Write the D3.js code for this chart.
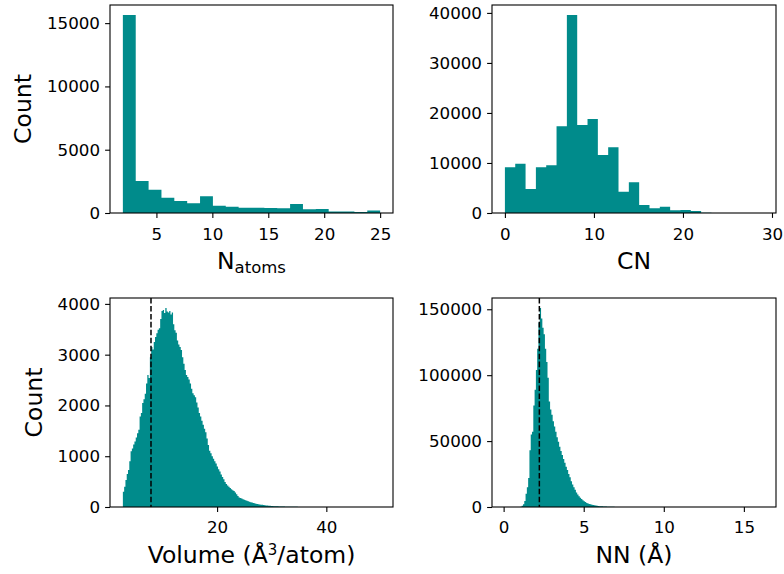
<!DOCTYPE html>
<html>
<head>
<meta charset="utf-8">
<script src="https://cdn.jsdelivr.net/npm/d3@7"></script>
<style>
body { margin: 0; background: #fff; }
svg { display: block; }
text { font-family: "DejaVu Sans", sans-serif; }
</style>
</head>
<body>
<svg width="784" height="574"></svg>
<script>
var svg = d3.select('svg');

// histogram counts, one value per bin
var natomsRange = [2, 25];
var natomsCounts = [15650, 2530, 1830, 1200, 950, 780, 1330, 570, 495, 420,
    415, 400, 370, 720, 300, 320, 110, 110, 80, 190];
var natomsXTicks = [5, 10, 15, 20, 25];
var natomsYTicks = [0, 5000, 10000, 15000];

var cnRange = [0, 29];
var cnCounts = [9130, 9870, 4800, 9130, 9530, 17330, 39600, 17600, 18800, 11600,
    13130, 4270, 6130, 1600, 930, 1270, 530, 600, 400, 60,
    20, 8, 4, 2, 1];
var cnXTicks = [0, 10, 20, 30];
var cnYTicks = [0, 10000, 20000, 30000, 40000];

var volumeRange = [2.75, 49.85];
var volumeCounts = [
    300, 400, 530, 650, 730, 900, 1100, 1150, 1230, 1290,
    1370, 1450, 1520, 1780, 1850, 2050, 2120, 2230, 2430, 2600,
    2540, 2950, 3150, 3100, 3250, 3350, 3420, 3490, 3520, 3700,
    3860, 3880, 3820, 3920, 3850, 3830, 3860, 3790, 3830, 3600,
    3480, 3430, 3280, 3200, 3150, 3090, 2950, 2820, 2700, 2600,
    2560, 2510, 2430, 2330, 2240, 2200, 2160, 2060, 1960, 1850,
    1780, 1700, 1620, 1540, 1470, 1350, 1220, 1110, 1060, 1000,
    950, 900, 855, 800, 745, 700, 640, 590, 545, 490,
    455, 425, 400, 375, 350, 330, 315, 285, 250, 215,
    185, 175, 165, 155, 143, 133, 125, 115, 105, 95,
    88, 80, 73, 66, 60, 55, 50, 46, 42, 38,
    34, 31, 28, 25, 23, 21, 19, 17, 15, 14,
    13, 12, 11, 10, 9, 8, 7, 6, 6, 5,
    5, 4, 4, 3, 3, 3, 2, 2, 2, 2,
    2, 1, 1, 1, 1, 1, 1, 1, 0, 1,
    0, 1, 0, 0, 1, 0, 0, 0, 1, 0,
    0, 0, 0, 1, 0, 0, 0, 0, 0, 0,
    0, 0, 1, 0, 0, 0, 0, 0, 0, 0,
    0, 0, 0, 0, 0, 0, 0, 0, 0, 0,
    0, 0, 0, 0, 0, 0, 0, 0, 0, 1];
var volumeXTicks = [20, 40];
var volumeYTicks = [0, 1000, 2000, 3000, 4000];
var volumeMarker = 7.9;

var nnRange = [0.08, 16.2];
var nnCounts = [
    1, 0, 0, 0, 1, 0, 1, 1, 2, 3,
    20, 60, 250, 900, 2000, 4500, 10000, 15000, 22000, 43000,
    55000, 57000, 77000, 89000, 104000, 120000, 140000, 151000, 143000, 136000,
    131000, 120000, 110000, 98000, 80000, 74000, 70000, 65000, 61000, 57000,
    53000, 49500, 45700, 42500, 39500, 36500, 33500, 30500, 28000, 25000,
    22500, 19500, 17000, 15000, 13000, 11000, 9500, 8200, 7100, 6100,
    5200, 4400, 3700, 3100, 2700, 2300, 2000, 1700, 1450, 1250,
    1050, 900, 770, 660, 560, 480, 410, 350, 300, 255,
    215, 185, 155, 130, 110, 95, 80, 68, 58, 50,
    42, 36, 30, 26, 22, 19, 16, 14, 12, 10,
    9, 8, 7, 6, 5, 5, 4, 4, 3, 3,
    3, 2, 2, 2, 2, 1, 1, 1, 1, 1,
    1, 1, 1, 0, 1, 1, 0, 1, 0, 1,
    0, 0, 1, 0, 0, 0, 1, 0, 0, 0,
    0, 0, 0, 1, 0, 0, 0, 0, 0, 0,
    0, 0, 0, 0, 0, 0, 1, 0, 0, 0,
    0, 0, 0, 0, 0, 0, 0, 0, 0, 0,
    0, 0, 0, 0, 0, 0, 0, 0, 0, 0,
    0, 0, 0, 0, 0, 0, 0, 0, 0, 0,
    0, 0, 0, 0, 0, 0, 0, 0, 0, 1];
var nnXTicks = [0, 5, 10, 15];
var nnYTicks = [0, 50000, 100000, 150000];
var nnMarker = 2.23;

var fill = '#008b8b';
var tickFont = 16.7;
var labelFont = 23.5;

function drawPanel(p) {
    var g = svg.append('g').attr('transform', 'translate(' + p.left + ',' + p.top + ')');
    var lo = p.range[0], hi = p.range[1], n = p.counts.length;
    var step = (hi - lo) / n, margin = (hi - lo) * 0.05;

    var x = d3.scaleLinear().domain([lo - margin, hi + margin]).range([0, p.width]);
    var y = d3.scaleLinear().domain([0, d3.max(p.counts) * 1.05]).range([p.height, 0]);

    // bins as one stepped area so thin bars don't leave seams
    var pts = p.counts.map(function(c, i) { return [lo + i * step, c]; });
    pts.push([hi, p.counts[n - 1]]);
    var area = d3.area()
        .x(function(d) { return x(d[0]); })
        .y0(y(0))
        .y1(function(d) { return y(d[1]); })
        .curve(d3.curveStepAfter);
    g.append('path').datum(pts).attr('d', area).attr('fill', fill);

    if (p.marker != null) {
        g.append('line')
            .attr('x1', x(p.marker)).attr('x2', x(p.marker))
            .attr('y1', 0).attr('y2', p.height)
            .attr('stroke', '#000').attr('stroke-width', 1.5)
            .attr('stroke-dasharray', '5.55,2.4');
    }

    var gx = g.append('g')
        .attr('transform', 'translate(0,' + p.height + ')')
        .call(d3.axisBottom(x).tickValues(p.xTicks).tickSize(4.9).tickPadding(p.xPad));
    var gy = g.append('g')
        .call(d3.axisLeft(y).tickValues(p.yTicks).tickSize(4.9).tickPadding(5.1).tickFormat(d3.format('d')));

    [gx, gy].forEach(function(ax) {
        ax.attr('font-family', null).attr('font-size', null);
        ax.select('.domain').remove();
        ax.selectAll('line').attr('stroke', '#000').attr('stroke-width', 1.1);
        ax.selectAll('text').attr('fill', '#000').style('font-size', tickFont + 'px');
    });

    g.append('rect')
        .attr('width', p.width).attr('height', p.height)
        .attr('fill', 'none').attr('stroke', '#000').attr('stroke-width', 1.1);

    var xl = g.append('text')
        .attr('x', p.width / 2).attr('y', p.height + 56)
        .attr('text-anchor', 'middle')
        .style('font-size', labelFont + 'px');
    p.xlabel(xl);

    if (p.ylabel) {
        var bb = gy.node().getBBox();
        g.append('text')
            .attr('transform', 'translate(' + (bb.x - 15.5) + ',' + (p.height / 2) + ')rotate(-90)')
            .attr('text-anchor', 'middle')
            .style('font-size', labelFont + 'px')
            .text(p.ylabel);
    }
}

drawPanel({
    left: 110, top: 5, width: 283, height: 208,
    range: natomsRange, counts: natomsCounts,
    xTicks: natomsXTicks, yTicks: natomsYTicks, xPad: 10.2,
    ylabel: 'Count',
    xlabel: function(t) {
        t.append('tspan').text('N');
        t.append('tspan').attr('dy', 4).style('font-size', '16.5px').text('atoms');
    }
});

drawPanel({
    left: 492, top: 5, width: 284, height: 208,
    range: cnRange, counts: cnCounts,
    xTicks: cnXTicks, yTicks: cnYTicks, xPad: 10.2,
    xlabel: function(t) { t.text('CN'); }
});

drawPanel({
    left: 110, top: 298, width: 283, height: 209,
    range: volumeRange, counts: volumeCounts, marker: volumeMarker,
    xTicks: volumeXTicks, yTicks: volumeYTicks, xPad: 9.7,
    ylabel: 'Count',
    xlabel: function(t) {
        t.append('tspan').text('Volume (Å');
        t.append('tspan').attr('dy', -8).style('font-size', '15px').text('3');
        t.append('tspan').attr('dy', 8).text('/atom)');
    }
});

drawPanel({
    left: 492, top: 298, width: 284, height: 209,
    range: nnRange, counts: nnCounts, marker: nnMarker,
    xTicks: nnXTicks, yTicks: nnYTicks, xPad: 9.7,
    xlabel: function(t) { t.text('NN (Å)'); }
});
</script>
</body>
</html>
